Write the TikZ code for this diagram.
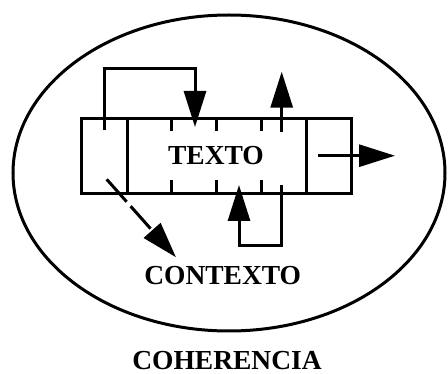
\documentclass[tikz,border=0pt]{standalone}
\usepackage{fontspec}
\setmainfont{Liberation Serif}
\usetikzlibrary{arrows.meta}
\begin{document}
\begin{tikzpicture}[x=1pt,y=-1pt,
  ln/.style={line width=3pt},
  bigarrow/.style={ln,-{Triangle[length=36pt,width=22pt]}},
  lbl/.style={font=\fontsize{27.5}{30}\selectfont\bfseries, inner sep=0pt}]
\useasboundingbox (0,0) rectangle (448,374);
% ellipse
\draw[line width=3pt] (229,173) ellipse [x radius=216, y radius=158];
% main box
\node[draw, ln, minimum width=270pt, minimum height=75pt, inner sep=0pt] (box) at (216.7,155.8) {};
\draw[ln] (127.3,118.3) -- (127.3,193.3);
\draw[ln] (306.7,118.3) -- (306.7,193.3);
\foreach \x in {171.7,216.7,261.7} {
  \draw[ln] (\x,118.3) -- (\x,131.5);
  \draw[ln] (\x,180) -- (\x,193.3);
}
\node[lbl] (texto) at (216,156) {TEXTO};
\node[lbl] (contexto) at (222.7,276) {CONTEXTO};
\node[lbl] (coherencia) at (227,360.5) {COHERENCIA};
% connectors
\coordinate (l1) at (104,130);
\coordinate (l2) at (195,127);
\draw[bigarrow] (l1) -- (104,68.3) -- (195,68.3) -- (l2);
\coordinate (u1) at (281.7,131.7);
\coordinate (u2) at (281.7,71.7);
\draw[bigarrow] (u1) -- (u2);
\coordinate (b1) at (281.7,185);
\coordinate (b2) at (239,185);
\draw[bigarrow] (b1) -- (281.7,246) -- (239,246) -- (b2);
\coordinate (r1) at (318,155.7);
\coordinate (r2) at (395,155.7);
\draw[bigarrow] (r1) -- (r2);
\coordinate (d1) at (106.7,179.3);
\coordinate (d2) at (176,257.3);
\draw[bigarrow, dash pattern=on 30pt off 6pt] (d1) -- (d2);
\end{tikzpicture}
\end{document}
